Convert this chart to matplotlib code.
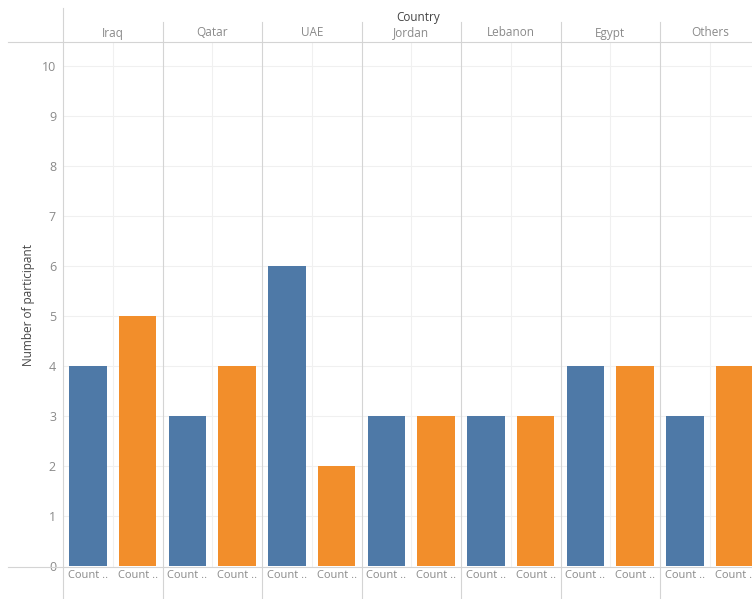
import matplotlib.pyplot as plt

# ================================
# Data
# ================================
countries = ["Iraq", "Qatar", "UAE", "Jordan", "Lebanon", "Egypt", "Others"]
blue_counts = [4, 3, 6, 3, 3, 4, 3]
orange_counts = [5, 4, 2, 3, 3, 4, 4]
bar_labels = ["Count ..", "Count .."]
y_ticks = list(range(0, 11))

BLUE = "#4e79a7"
ORANGE = "#f28e2b"
TXT = "#8a8a8a"
LINE = "#d4d4d4"
GRID = "#f0f0f0"

plt.rcParams["font.family"] = ["Open Sans", "DejaVu Sans"]

# ================================
# Figure / axes laid out in pixels
# ================================
W, H = 752, 599
fig = plt.figure(figsize=(W / 100, H / 100), dpi=100)
left, right, top, bottom = 63, 752, 42, 567
ax = fig.add_axes([left / W, (H - bottom) / H, (right - left) / W, (bottom - top) / H])

n = len(countries)
ax.set_xlim(0, (right - left) / 99.5)
ax.set_ylim(-(bottom - 566) / 50, (566 - top) / 50)

for i in range(n):
    ax.bar(i + 0.25, blue_counts[i], width=0.375, color=BLUE, zorder=3)
    ax.bar(i + 0.75, orange_counts[i], width=0.375, color=ORANGE, zorder=3)

# gridlines
for y in y_ticks[1:]:
    ax.axhline(y, color=GRID, lw=0.8, zorder=1)
for i in range(n):
    ax.axvline(i + 0.5, color=GRID, lw=0.8, zorder=1)

# panel separators (extend into header and footer)
xt = ax.get_xaxis_transform()
ph = bottom - top
for i in range(n + 1):
    y0 = 1 + (top - 8) / ph if i == 0 else 1 + (top - 22) / ph
    ax.plot([i, i], [-(H - bottom) / ph, y0], color=LINE, lw=0.8,
            transform=xt, clip_on=False, zorder=2)

# header and baseline rules
x_left = (8 - left) / (right - left)
ax.plot([x_left, 1], [1, 1], color=LINE, lw=0.8, transform=ax.transAxes, clip_on=False)
ax.plot([x_left, 1], [0, 0], color=LINE, lw=0.8, transform=ax.transAxes, clip_on=False)

for s in ax.spines.values():
    s.set_visible(False)
ax.set_xticks([])
ax.set_yticks(y_ticks)
ax.set_yticklabels([str(y) for y in y_ticks], color=TXT, fontsize=9)
ax.tick_params(axis="y", length=0, pad=5)
ax.set_ylabel("Number of participant", color="#444444", fontsize=8.5, labelpad=5)

# header labels
for i, c in enumerate(countries):
    ax.text(i + 0.5, 1 + 9 / ph, c, transform=xt, ha="center", va="center",
            color=TXT, fontsize=8.5, clip_on=False)
ax.text((418 - left) / 99.5, 1 + 25 / ph, "Country", transform=xt,
        ha="center", va="center", color="#444444", fontsize=8.5, clip_on=False)

# bottom bar labels
for i in range(n):
    for j, off in enumerate([0.25, 0.75]):
        ax.text(i + off, -3 / ph, bar_labels[j], transform=xt, ha="center",
                va="top", color=TXT, fontsize=8, clip_on=False)

fig.savefig("out.png", dpi=100)
